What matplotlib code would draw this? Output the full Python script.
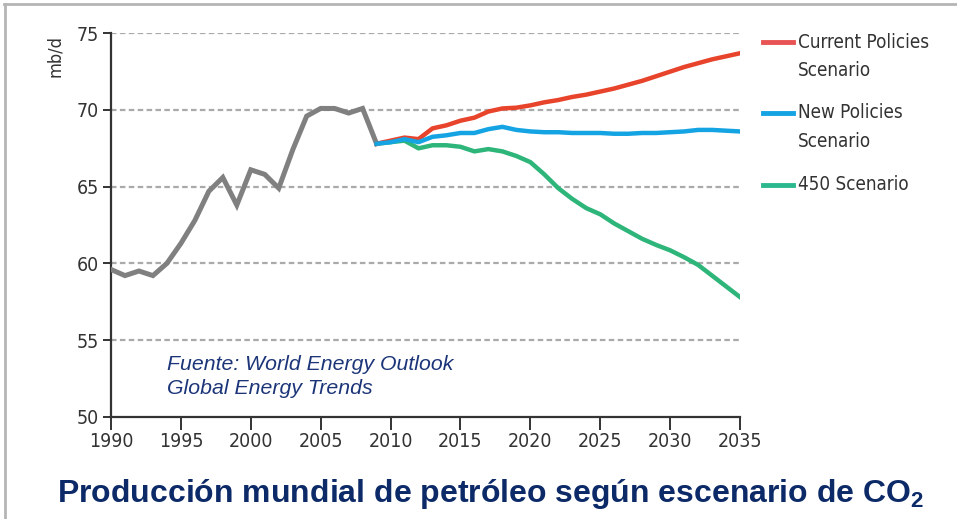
import matplotlib
matplotlib.use("Agg")
import matplotlib.pyplot as plt
from matplotlib.lines import Line2D

# --- Data (mb/d) ---
hist_years = list(range(1990, 2010))
hist_values = [59.6, 59.2, 59.5, 59.2, 60.0, 61.3, 62.8, 64.7, 65.6, 63.8,
               66.1, 65.8, 64.9, 67.4, 69.6, 70.1, 70.1, 69.8, 70.1, 67.8]

scen_years = list(range(2009, 2036))
current_policies = [67.8, 68.0, 68.2, 68.1, 68.8, 69.0, 69.3, 69.5, 69.9, 70.1,
                    70.15, 70.3, 70.5, 70.65, 70.85, 71.0, 71.2, 71.4, 71.65,
                    71.9, 72.2, 72.5, 72.8, 73.05, 73.3, 73.5, 73.7]
new_policies = [67.8, 67.9, 68.1, 67.9, 68.25, 68.35, 68.5, 68.5, 68.75, 68.9,
                68.7, 68.6, 68.55, 68.55, 68.5, 68.5, 68.5, 68.45, 68.45, 68.5,
                68.5, 68.55, 68.6, 68.7, 68.7, 68.65, 68.6]
scenario_450 = [67.8, 67.9, 68.0, 67.5, 67.7, 67.7, 67.6, 67.3, 67.45, 67.3,
                67.0, 66.6, 65.8, 64.9, 64.2, 63.6, 63.2, 62.6, 62.1, 61.6,
                61.2, 60.85, 60.4, 59.9, 59.2, 58.5, 57.8]

series_labels = ["Current Policies\nScenario", "New Policies\nScenario", "450 Scenario"]
x_ticks = [1990, 1995, 2000, 2005, 2010, 2015, 2020, 2025, 2030, 2035]
y_ticks = [50, 55, 60, 65, 70, 75]

# --- Styles ---
COND = dict(family="DejaVu Sans", stretch="condensed")  # narrow axis/legend text
GRAY = "#808080"
RED = "#e8442c"
BLUE = "#14a3e3"
GREEN = "#2db57a"
NAVY = "#0d2a68"
TXT = "#333333"

fig = plt.figure(figsize=(9.57, 5.19), dpi=100)
ax = fig.add_axes([111 / 957, 1 - 416.7 / 519, 629 / 957, 383.4 / 519])

ax.set_xlim(1990, 2035)
ax.set_ylim(50, 75)
ax.set_xticks(x_ticks)
ax.set_yticks(y_ticks)
ax.set_xticklabels([str(t) for t in x_ticks], fontsize=14, color=TXT, **COND)
ax.set_yticklabels([str(t) for t in y_ticks], fontsize=14, color=TXT, **COND)

for s in ["top", "right"]:
    ax.spines[s].set_visible(False)
for s in ["left", "bottom"]:
    ax.spines[s].set_color("#333333")
    ax.spines[s].set_linewidth(1.6)
ax.tick_params(axis="x", length=9, width=1.4, color="#333333", pad=2)
ax.tick_params(axis="y", length=6, width=1.4, color="#333333", pad=3)

# horizontal dashed gridlines
for v in y_ticks[1:]:
    ax.axhline(v, color="#aaaaaa", lw=1.6, ls=(0, (2.5, 1.5)), zorder=1)

ax.plot(hist_years, hist_values, color=GRAY, lw=3.6, zorder=3,
        solid_joinstyle="miter")
ax.plot(scen_years, scenario_450, color=GREEN, lw=3.2, zorder=4)
ax.plot(scen_years, current_policies, color=RED, lw=3.2, zorder=4)
ax.plot(scen_years, new_policies, color=BLUE, lw=3.2, zorder=5)

# unit label
fig.text(55 / 957, 1 - 56 / 519, "mb/d", rotation=90, ha="center", va="center",
         fontsize=13, color=TXT, **COND)

# source note
for i, line in enumerate(["Fuente: World Energy Outlook", "Global Energy Trends"]):
    fig.text(167 / 957, 1 - (364 + 25 * i) / 519, line, ha="left", va="center",
             style="italic", family="Liberation Sans", fontsize=15.3, color="#1c3578")

# legend drawn by hand on the right
legend_colors = ["#e85454", BLUE, "#2cb88f"]
legend_y = [42, 113, 185]
for lab, col, yy in zip(series_labels, legend_colors, legend_y):
    yf = 1 - yy / 519
    fig.add_artist(Line2D([763 / 957, 793 / 957], [yf, yf], color=col, lw=3.5))
    for i, part in enumerate(lab.split("\n")):
        fig.text(798 / 957, yf - (29 * i) / 519, part, ha="left", va="center",
                 fontsize=13.5, color=TXT, **COND)

# title
fig.text(491 / 957, 1 - 494 / 519,
         "Producción mundial de petróleo según escenario de CO$_\\mathregular{2}$",
         ha="center", va="center", fontsize=23, fontweight="bold",
         family="Liberation Sans", color=NAVY)

# frame lines (top and left)
fig.add_artist(Line2D([4 / 957, 1], [1 - 4 / 519, 1 - 4 / 519], color="#b5b5b5", lw=2))
fig.add_artist(Line2D([5 / 957, 5 / 957], [0, 1 - 4 / 519], color="#b5b5b5", lw=2))

fig.savefig("out.png", dpi=100)
